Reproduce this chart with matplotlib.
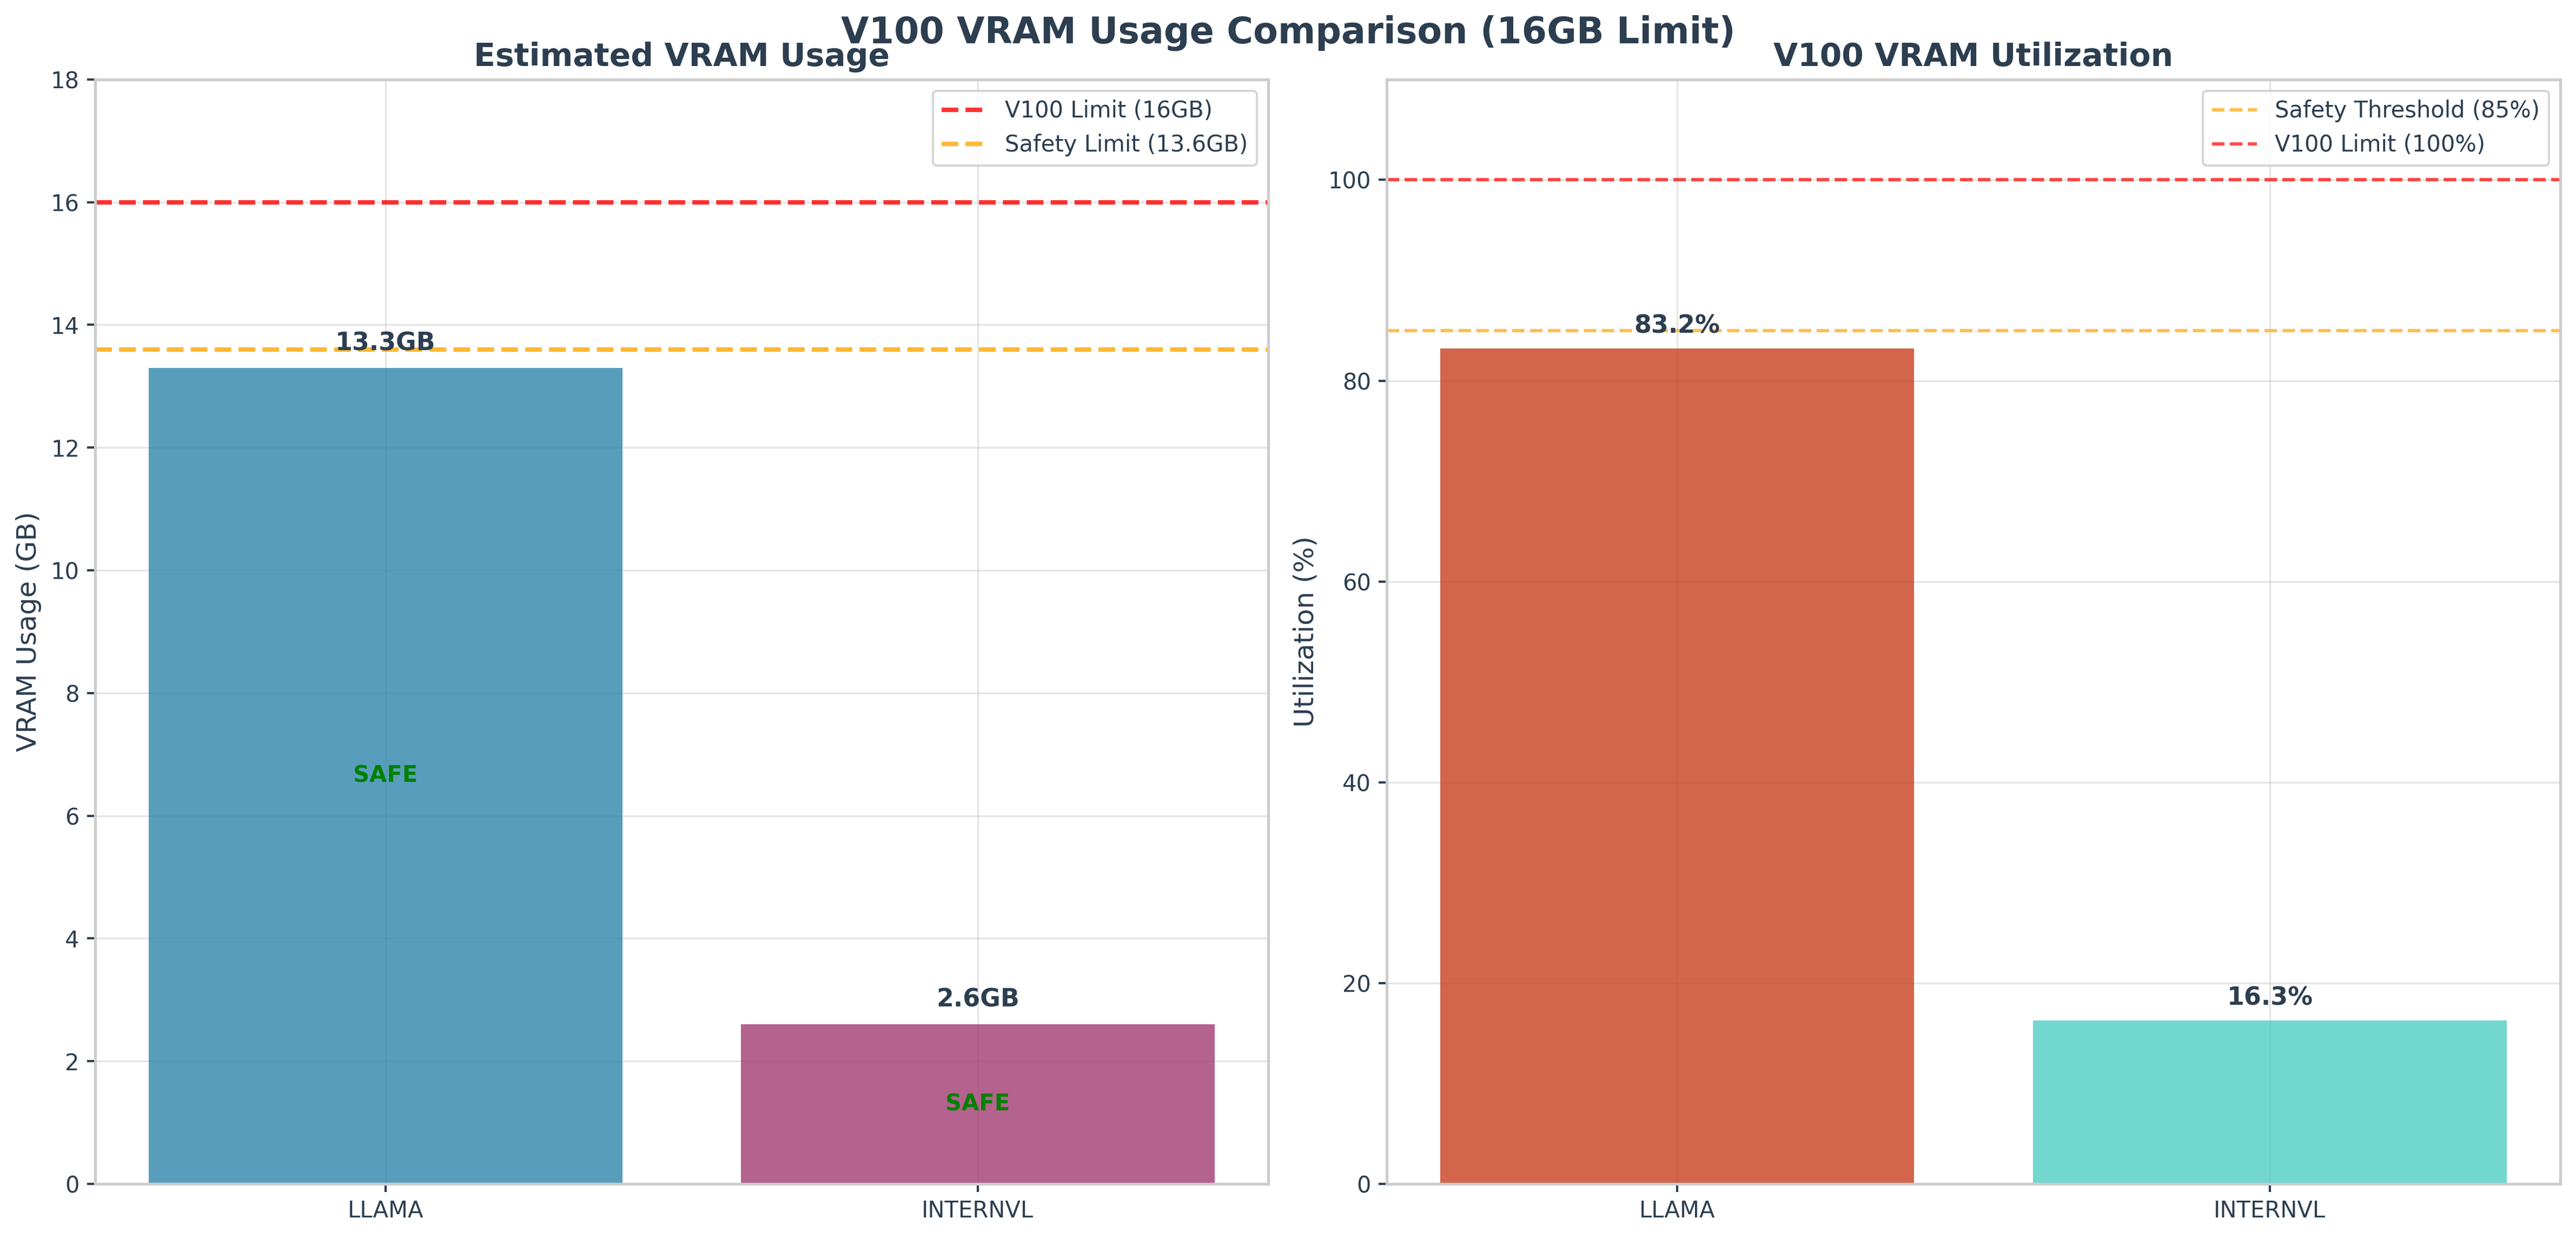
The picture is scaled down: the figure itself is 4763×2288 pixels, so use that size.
import matplotlib.pyplot as plt
import numpy as np

# datos
modelos = ['LLAMA', 'INTERNVL']
vram_gb = [13.3, 2.6]
utilizacion = [83.2, 16.3]
estado = ['SAFE', 'SAFE']
limite_v100 = 16
limite_seguro = 13.6
umbral_pct = 85
limite_pct = 100

texto = '#2c3e50'
plt.rcParams['font.family'] = 'DejaVu Sans'
plt.rcParams['text.color'] = texto
plt.rcParams['axes.labelcolor'] = texto
plt.rcParams['xtick.color'] = texto
plt.rcParams['ytick.color'] = texto
plt.rcParams['axes.edgecolor'] = '#cccccc'
plt.rcParams['axes.linewidth'] = 1.25
plt.rcParams['grid.color'] = '#cccccc'
plt.rcParams['axes.axisbelow'] = True

fig = plt.figure(figsize=(4763 / 300, 2288 / 300), dpi=300)
ax1 = fig.add_axes([0.03695, 0.0437, 0.4553, 0.8921])
ax2 = fig.add_axes([0.5383, 0.0437, 0.4556, 0.8921])

x = np.arange(len(modelos))

# grafico 1
barras = ax1.bar(x, vram_gb, width=0.8, color=['#2E86AB', '#A23B72'], alpha=0.8)
ax1.axhline(limite_v100, color='red', linestyle='--', linewidth=2, alpha=0.8, label='V100 Limit (16GB)')
ax1.axhline(limite_seguro, color='orange', linestyle='--', linewidth=2, alpha=0.8, label='Safety Limit (13.6GB)')
for i, b in enumerate(barras):
    h = b.get_height()
    ax1.text(b.get_x() + b.get_width() / 2, h + 0.2, f'{vram_gb[i]}GB', ha='center', va='bottom',
             fontsize=11, fontweight='bold', color=texto)
    ax1.text(b.get_x() + b.get_width() / 2, h / 2, estado[i], ha='center', va='center',
             fontsize=10, fontweight='bold', color='green')
ax1.set_ylim(0, 18)
ax1.set_xticks(x)
ax1.set_xticklabels(modelos)
ax1.set_ylabel('VRAM Usage (GB)', fontsize=12)
ax1.set_title('Estimated VRAM Usage', fontsize=14, fontweight='bold', color=texto)
ax1.legend(loc='upper right', fontsize=10, edgecolor='#cccccc')
ax1.grid(True, alpha=0.5)

# grafico 2
barras2 = ax2.bar(x, utilizacion, width=0.8, color=['#C73E1D', '#4ECDC4'], alpha=0.8)
ax2.axhline(umbral_pct, color='orange', linestyle='--', linewidth=1.5, alpha=0.7, label='Safety Threshold (85%)')
ax2.axhline(limite_pct, color='red', linestyle='--', linewidth=1.5, alpha=0.7, label='V100 Limit (100%)')
for i, b in enumerate(barras2):
    h = b.get_height()
    ax2.text(b.get_x() + b.get_width() / 2, h + 1, f'{utilizacion[i]}%', ha='center', va='bottom',
             fontsize=11, fontweight='bold', color=texto)
ax2.set_ylim(0, 110)
ax2.set_xticks(x)
ax2.set_xticklabels(modelos)
ax2.set_ylabel('Utilization (%)', fontsize=12)
ax2.set_title('V100 VRAM Utilization', fontsize=14, fontweight='bold', color=texto)
ax2.legend(loc='upper right', fontsize=10, edgecolor='#cccccc')
ax2.grid(True, alpha=0.5)

for ax in (ax1, ax2):
    ax.tick_params(labelsize=10, length=3.5, width=1)

fig.suptitle('V100 VRAM Usage Comparison (16GB Limit)', fontsize=16, fontweight='bold', color=texto, y=0.988)

plt.savefig('out.png', dpi=300)
